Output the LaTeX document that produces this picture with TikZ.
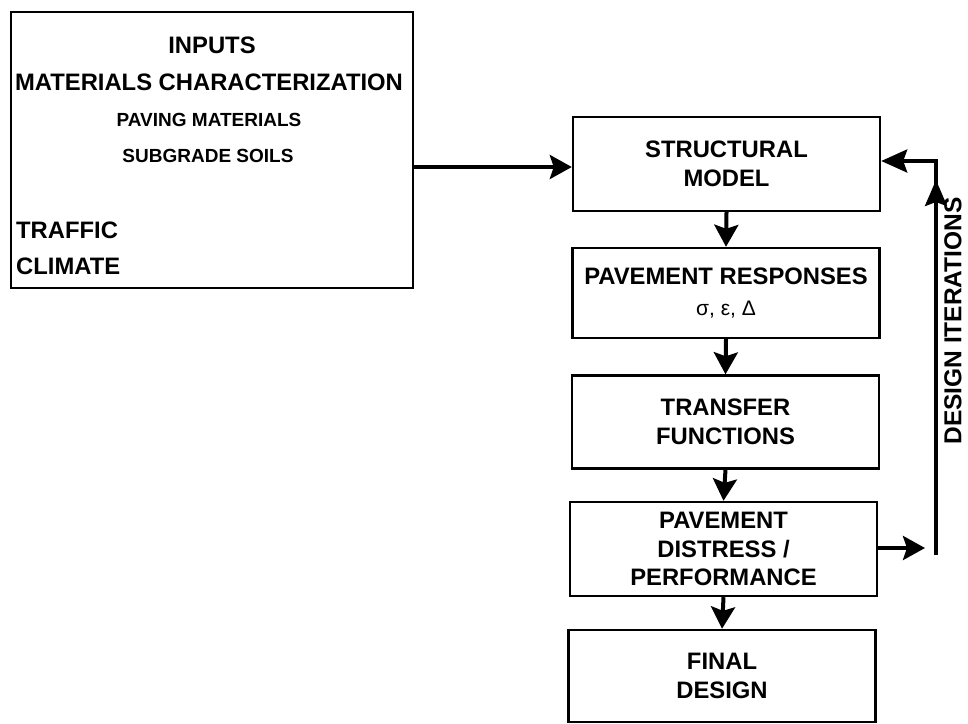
\documentclass[tikz,border=0pt]{standalone}
\usepackage{fontspec}
\setmainfont{Liberation Sans}
\usetikzlibrary{arrows.meta}
\tikzset{
  big/.style={font=\fontsize{23.8}{28.5}\selectfont\bfseries},
  small/.style={font=\fontsize{19}{22}\selectfont\bfseries},
  flowbox/.style={draw, line width=2.4pt, minimum width=307pt, inner sep=0pt, align=center, big},
  flow/.style={line width=4pt, -{Stealth[length=22pt, width=24pt, inset=4pt]}},
  txt/.style={inner sep=0pt}
}
\begin{document}
\begin{tikzpicture}[x=1pt, y=-1pt]
\useasboundingbox (0,0) rectangle (968,723);
% Inputs box
\node[draw, line width=2.4pt, minimum width=402pt, minimum height=276pt, inner sep=0pt] (inputs) at (212,150) {};
\node[txt, big] (t1) at (212,45) {INPUTS};
\node[txt, big] (t2) at (209,82) {MATERIALS CHARACTERIZATION};
\node[txt, small] (t3) at (209,120) {PAVING MATERIALS};
\node[txt, small] (t4) at (208,156) {SUBGRADE SOILS};
\node[txt, big, anchor=west] (t5) at (16,230) {TRAFFIC};
\node[txt, big, anchor=west] (t6) at (16,266) {CLIMATE};
% Flow boxes
\node[flowbox, minimum height=94pt] (struct) at (726.5,164) {STRUCTURAL\\MODEL};
\node[flowbox, minimum height=90pt] (resp) at (726,293) {PAVEMENT RESPONSES\\[2pt]{\fontsize{21}{22}\selectfont\mdseries σ, ε, Δ}};
\node[flowbox, minimum height=93pt] (trans) at (725.5,422) {TRANSFER\\FUNCTIONS};
\node[flowbox, minimum height=94pt] (dist) at (723.5,549) {PAVEMENT\\DISTRESS /\\PERFORMANCE};
\node[flowbox, minimum height=92pt] (final) at (722,676) {FINAL\\DESIGN};
% connectors
\draw[flow] (inputs.east |- 0,167) -- (struct.west |- 0,167);
\draw[flow] (struct.south) -- (resp.north);
\draw[flow] (resp.south) -- (trans.north);
\draw[flow] (trans.south) -- (dist.north);
\draw[flow] (dist.south) -- (final.north);
% feedback
\coordinate (fbend) at (925,548);
\coordinate (fbbot) at (936,555);
\coordinate (fbtop) at (936,161);
\coordinate (fbmid) at (936,180);
\draw[flow] (dist.east |- fbend) -- (fbend);
\draw[line width=3.5pt, -{Stealth[length=26pt, width=23pt, inset=4pt]}] (fbbot) -- (fbtop) -- (struct.east |- fbtop);
\draw[line width=3.5pt, -{Stealth[length=26pt, width=22pt, inset=4pt]}] (fbbot) -- (fbmid);
\node[txt, font=\fontsize{24.5}{26}\selectfont\bfseries, rotate=90] (di) at (953,321) {DESIGN ITERATIONS};
\end{tikzpicture}
\end{document}
